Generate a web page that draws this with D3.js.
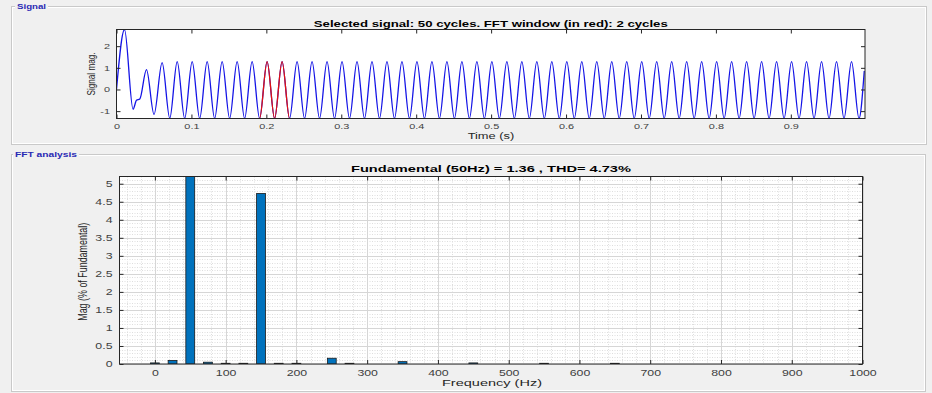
<!DOCTYPE html>
<html><head><meta charset="utf-8">
<script src="https://cdn.jsdelivr.net/npm/d3@7"></script>
<style>
html,body{margin:0;padding:0;background:#f0f0f0;}
svg{display:block;font-family:"Liberation Sans",Arial,sans-serif;}
</style></head><body>
<svg id="c" width="932" height="393"></svg>
<script>
// ---------------- DATA ----------------
const sigT = [0, 0.0107, 0.0221, 0.0267, 0.0311, 0.0400, 0.0501, 0.0609, 0.0711,
  0.081, 0.091, 0.101, 0.111, 0.121, 0.131, 0.141, 0.151, 0.161, 0.171,
  0.181, 0.191, 0.201, 0.211, 0.221, 0.231, 0.241, 0.251, 0.261, 0.271,
  0.281, 0.291, 0.301, 0.311, 0.321, 0.331, 0.341, 0.351, 0.361, 0.371,
  0.381, 0.391, 0.401, 0.411, 0.421, 0.431, 0.441, 0.451, 0.461, 0.471,
  0.481, 0.491, 0.501, 0.511, 0.521, 0.531, 0.541, 0.551, 0.561, 0.571,
  0.581, 0.591, 0.601, 0.611, 0.621, 0.631, 0.641, 0.651, 0.661, 0.671,
  0.681, 0.691, 0.701, 0.711, 0.721, 0.731, 0.741, 0.751, 0.761, 0.771,
  0.781, 0.791, 0.801, 0.811, 0.821, 0.831, 0.841, 0.851, 0.861, 0.871,
  0.881, 0.891, 0.901, 0.911, 0.921, 0.931, 0.941, 0.951, 0.961, 0.971,
  0.981, 0.991, 0.998];
const sigV = [0, 2.77, -0.91, -0.5, -0.44, 0.92, -1.15, 1.24, -1.33,
  1.29, -1.34, 1.29, -1.34, 1.29, -1.34, 1.29, -1.34, 1.29, -1.34,
  1.29, -1.34, 1.29, -1.34, 1.29, -1.34, 1.29, -1.34, 1.29, -1.34,
  1.29, -1.34, 1.29, -1.34, 1.29, -1.34, 1.29, -1.34, 1.29, -1.34,
  1.29, -1.34, 1.29, -1.34, 1.29, -1.34, 1.29, -1.34, 1.29, -1.34,
  1.29, -1.34, 1.29, -1.34, 1.29, -1.34, 1.29, -1.34, 1.29, -1.34,
  1.29, -1.34, 1.29, -1.34, 1.29, -1.34, 1.29, -1.34, 1.29, -1.34,
  1.29, -1.34, 1.29, -1.34, 1.29, -1.34, 1.29, -1.34, 1.29, -1.34,
  1.29, -1.34, 1.29, -1.34, 1.29, -1.34, 1.29, -1.34, 1.29, -1.34,
  1.29, -1.34, 1.29, -1.34, 1.29, -1.34, 1.29, -1.34, 1.29, -1.34,
  1.29, -1.34, 0.85];
const fftWindow = [0.191, 0.231];
const timeDomain = [0, 0.999];
const sigDomain = [-1.34, 2.77];
const timeTicks = [0, 0.1, 0.2, 0.3, 0.4, 0.5, 0.6, 0.7, 0.8, 0.9];
const timeTickLabels = ["0", "0.1", "0.2", "0.3", "0.4", "0.5", "0.6", "0.7", "0.8", "0.9"];
const sigTicks = [-1, 0, 1, 2];
const sigTickLabels = ["-1", "0", "1", "2"];

const fftFreq = [0, 25, 50, 75, 100, 125, 150, 175, 200, 250, 275, 350, 450, 550, 650];
const fftMag  = [0.03, 0.1, 100, 0.05, 0.02, 0.02, 4.73, 0.02, 0.02, 0.16, 0.02, 0.065, 0.03, 0.02, 0.02];
const freqDomain = [-50, 1000];
const magDomain = [0, 5.2];
const freqTicks = [0, 100, 200, 300, 400, 500, 600, 700, 800, 900, 1000];
const freqTickLabels = ["0", "100", "200", "300", "400", "500", "600", "700", "800", "900", "1000"];
const magTicks = [0, 0.5, 1, 1.5, 2, 2.5, 3, 3.5, 4, 4.5, 5];
const magTickLabels = ["0", "0.5", "1", "1.5", "2", "2.5", "3", "3.5", "4", "4.5", "5"];

const sigTitle = "Selected signal: 50 cycles. FFT window (in red): 2 cycles";
const fftTitle = "Fundamental (50Hz) = 1.36 , THD= 4.73%";

// ---------------- DRAW ----------------
const svg = d3.select("#c");
const STRETCH = 1.45;
function stretch(sel, f) {
  sel.each(function () {
    const l = this.getComputedTextLength();
    this.setAttribute("textLength", l * f);
    this.setAttribute("lengthAdjust", "spacingAndGlyphs");
  });
}

function panel(x, y, w, h, label, lx, lw) {
  const g = svg.append("g");
  g.append("rect").attr("x", x + 0.5).attr("y", y + 0.5).attr("width", w).attr("height", h)
    .attr("fill", "none").attr("stroke", "#c9c9c9");
  g.append("rect").attr("x", x + 1.5).attr("y", y + 1.5).attr("width", w - 2).attr("height", h - 2)
    .attr("fill", "none").attr("stroke", "#ffffff");
  g.append("rect").attr("x", lx - 2).attr("y", y - 4).attr("width", lw + 4).attr("height", 9).attr("fill", "#f0f0f0");
  g.append("text").attr("x", lx).attr("y", y + 3).attr("font-size", 8).attr("font-weight", "bold")
    .attr("fill", "#2a2ab4").attr("textLength", lw).attr("lengthAdjust", "spacingAndGlyphs").text(label);
}
panel(11, 6, 915, 138, "Signal", 17, 29);
panel(11, 154, 914, 237, "FFT analysis", 15, 62);

// ---------- Top: signal ----------
const T = {l: 116.5, r: 865, t: 29.5, b: 118.5};
const xs = d3.scaleLinear().domain(timeDomain).range([T.l, T.r]);
const ys = d3.scaleLinear().domain(sigDomain).range([T.b, T.t]);
const gt = svg.append("g");
gt.append("rect").attr("x", T.l).attr("y", T.t).attr("width", T.r - T.l).attr("height", T.b - T.t).attr("fill", "#fff");
const defs = svg.append("defs");
defs.append("clipPath").attr("id", "clipTop").append("rect")
  .attr("x", T.l).attr("y", T.t - 0.5).attr("width", T.r - T.l).attr("height", T.b - T.t + 1);
defs.append("clipPath").attr("id", "clipRed").append("rect")
  .attr("x", xs(fftWindow[0])).attr("y", T.t - 0.5).attr("width", xs(fftWindow[1]) - xs(fftWindow[0])).attr("height", T.b - T.t + 1);
const pts = sigT.map((t, i) => [t, sigV[i]]);
const line = d3.line().x(d => xs(d[0])).y(d => ys(d[1])).curve(d3.curveMonotoneX);
gt.append("path").attr("d", line(pts)).attr("fill", "none").attr("stroke", "#1414e6")
  .attr("stroke-width", 1.3).attr("clip-path", "url(#clipTop)");
gt.append("path").attr("d", line(pts)).attr("fill", "none").attr("stroke", "#e01010")
  .attr("stroke-width", 1.3).attr("clip-path", "url(#clipRed)");

function axes(g, x, y, P, xt, xl, yt, yl, fs, padX, padY) {
  const ax = g.append("g").attr("transform", `translate(0,${P.b})`)
    .call(d3.axisBottom(x).tickValues(xt).tickFormat((d, i) => xl[i]).tickSize(-4).tickSizeOuter(0).tickPadding(padX));
  const ax2 = g.append("g").attr("transform", `translate(0,${P.t})`)
    .call(d3.axisTop(x).tickValues(xt).tickFormat("").tickSize(-4).tickSizeOuter(0));
  const ay = g.append("g").attr("transform", `translate(${P.l},0)`)
    .call(d3.axisLeft(y).tickValues(yt).tickFormat((d, i) => yl[i]).tickSize(-4).tickSizeOuter(0).tickPadding(padY));
  const ay2 = g.append("g").attr("transform", `translate(${P.r},0)`)
    .call(d3.axisRight(y).tickValues(yt).tickFormat("").tickSize(-4).tickSizeOuter(0));
  [ax, ax2, ay, ay2].forEach(a => {
    a.select(".domain").remove();
    a.selectAll("line").attr("stroke", "#262626");
    a.selectAll("text").attr("font-size", fs).attr("fill", "#404040").attr("font-family", "Liberation Sans, Arial, sans-serif");
  });
  stretch(ax.selectAll("text"), STRETCH);
  stretch(ay.selectAll("text"), STRETCH);
  g.append("rect").attr("x", P.l).attr("y", P.t).attr("width", P.r - P.l).attr("height", P.b - P.t)
    .attr("fill", "none").attr("stroke", "#262626").attr("stroke-width", 1);
}
axes(gt, xs, ys, T, timeTicks, timeTickLabels, sigTicks, sigTickLabels, 7.5, 5.5, 6.5);

gt.append("text").attr("x", (T.l + T.r) / 2).attr("y", 26.8).attr("text-anchor", "middle")
  .attr("font-size", 9.5).attr("font-weight", "bold").attr("fill", "#000")
  .attr("textLength", 354).attr("lengthAdjust", "spacingAndGlyphs").text(sigTitle);
gt.append("text").attr("x", 491).attr("y", 138.6).attr("text-anchor", "middle")
  .attr("font-size", 8.5).attr("fill", "#262626")
  .attr("textLength", 46.7).attr("lengthAdjust", "spacingAndGlyphs").text("Time (s)");
gt.append("text").attr("transform", `translate(95,${(T.t + T.b) / 2}) rotate(-90)`).attr("text-anchor", "middle")
  .attr("font-size", 11).attr("fill", "#262626")
  .attr("textLength", 43).attr("lengthAdjust", "spacingAndGlyphs").text("Signal mag.");

// ---------- Bottom: FFT ----------
const B = {l: 119.5, r: 862.5, t: 176.5, b: 364};
const xf = d3.scaleLinear().domain(freqDomain).range([B.l, B.r]);
const yf = d3.scaleLinear().domain(magDomain).range([B.b, B.t]);
const gb = svg.append("g");
gb.append("rect").attr("x", B.l).attr("y", B.t).attr("width", B.r - B.l).attr("height", B.b - B.t).attr("fill", "#fff");
defs.append("clipPath").attr("id", "clipBot").append("rect")
  .attr("x", B.l).attr("y", B.t).attr("width", B.r - B.l).attr("height", B.b - B.t);
// minor grid
const minorX = d3.range(-40, 1000, 20).filter(v => v % 100 !== 0);
const minorY = d3.range(1, 52).map(v => v / 10).filter(v => Math.abs(v * 2 - Math.round(v * 2)) > 1e-6);
gb.append("g").selectAll("line").data(minorX).join("line")
  .attr("x1", d => Math.round(xf(d)) + 0.5).attr("x2", d => Math.round(xf(d)) + 0.5).attr("y1", B.t).attr("y2", B.b)
  .attr("stroke", "#dedede").attr("stroke-dasharray", "1,1.5");
gb.append("g").selectAll("line").data(minorY).join("line")
  .attr("y1", d => Math.round(yf(d)) + 0.5).attr("y2", d => Math.round(yf(d)) + 0.5).attr("x1", B.l).attr("x2", B.r)
  .attr("stroke", "#dedede").attr("stroke-dasharray", "1,1.5");
gb.append("g").selectAll("line").data(freqTicks).join("line")
  .attr("x1", d => Math.round(xf(d)) + 0.5).attr("x2", d => Math.round(xf(d)) + 0.5).attr("y1", B.t).attr("y2", B.b)
  .attr("stroke", "#d6d6d6");
gb.append("g").selectAll("line").data(magTicks).join("line")
  .attr("y1", d => Math.round(yf(d)) + 0.5).attr("y2", d => Math.round(yf(d)) + 0.5).attr("x1", B.l).attr("x2", B.r)
  .attr("stroke", "#d6d6d6");
// bars
const bw = xf(12.5) - xf(0);
gb.append("g").attr("clip-path", "url(#clipBot)").selectAll("rect").data(fftFreq).join("rect")
  .attr("x", d => xf(d) - bw / 2).attr("width", bw)
  .attr("y", (d, i) => yf(fftMag[i])).attr("height", (d, i) => yf(0) - yf(fftMag[i]))
  .attr("fill", "#0072bd").attr("stroke", "#1a1a1a").attr("stroke-width", 0.8);

axes(gb, xf, yf, B, freqTicks, freqTickLabels, magTicks, magTickLabels, 8.5, 6.3, 7);

gb.append("text").attr("x", (B.l + B.r) / 2).attr("y", 172.3).attr("text-anchor", "middle")
  .attr("font-size", 9.5).attr("font-weight", "bold").attr("fill", "#000")
  .attr("textLength", 280).attr("lengthAdjust", "spacingAndGlyphs").text(fftTitle);
gb.append("text").attr("x", 492).attr("y", 386.3).attr("text-anchor", "middle")
  .attr("font-size", 9.2).attr("fill", "#262626")
  .attr("textLength", 100).attr("lengthAdjust", "spacingAndGlyphs").text("Frequency (Hz)");
gb.append("text").attr("transform", `translate(87,${(B.t + B.b) / 2 + 1.5}) rotate(-90)`).attr("text-anchor", "middle")
  .attr("font-size", 12.5).attr("fill", "#262626")
  .attr("textLength", 98).attr("lengthAdjust", "spacingAndGlyphs").text("Mag (% of Fundamental)");
</script>
</body></html>
